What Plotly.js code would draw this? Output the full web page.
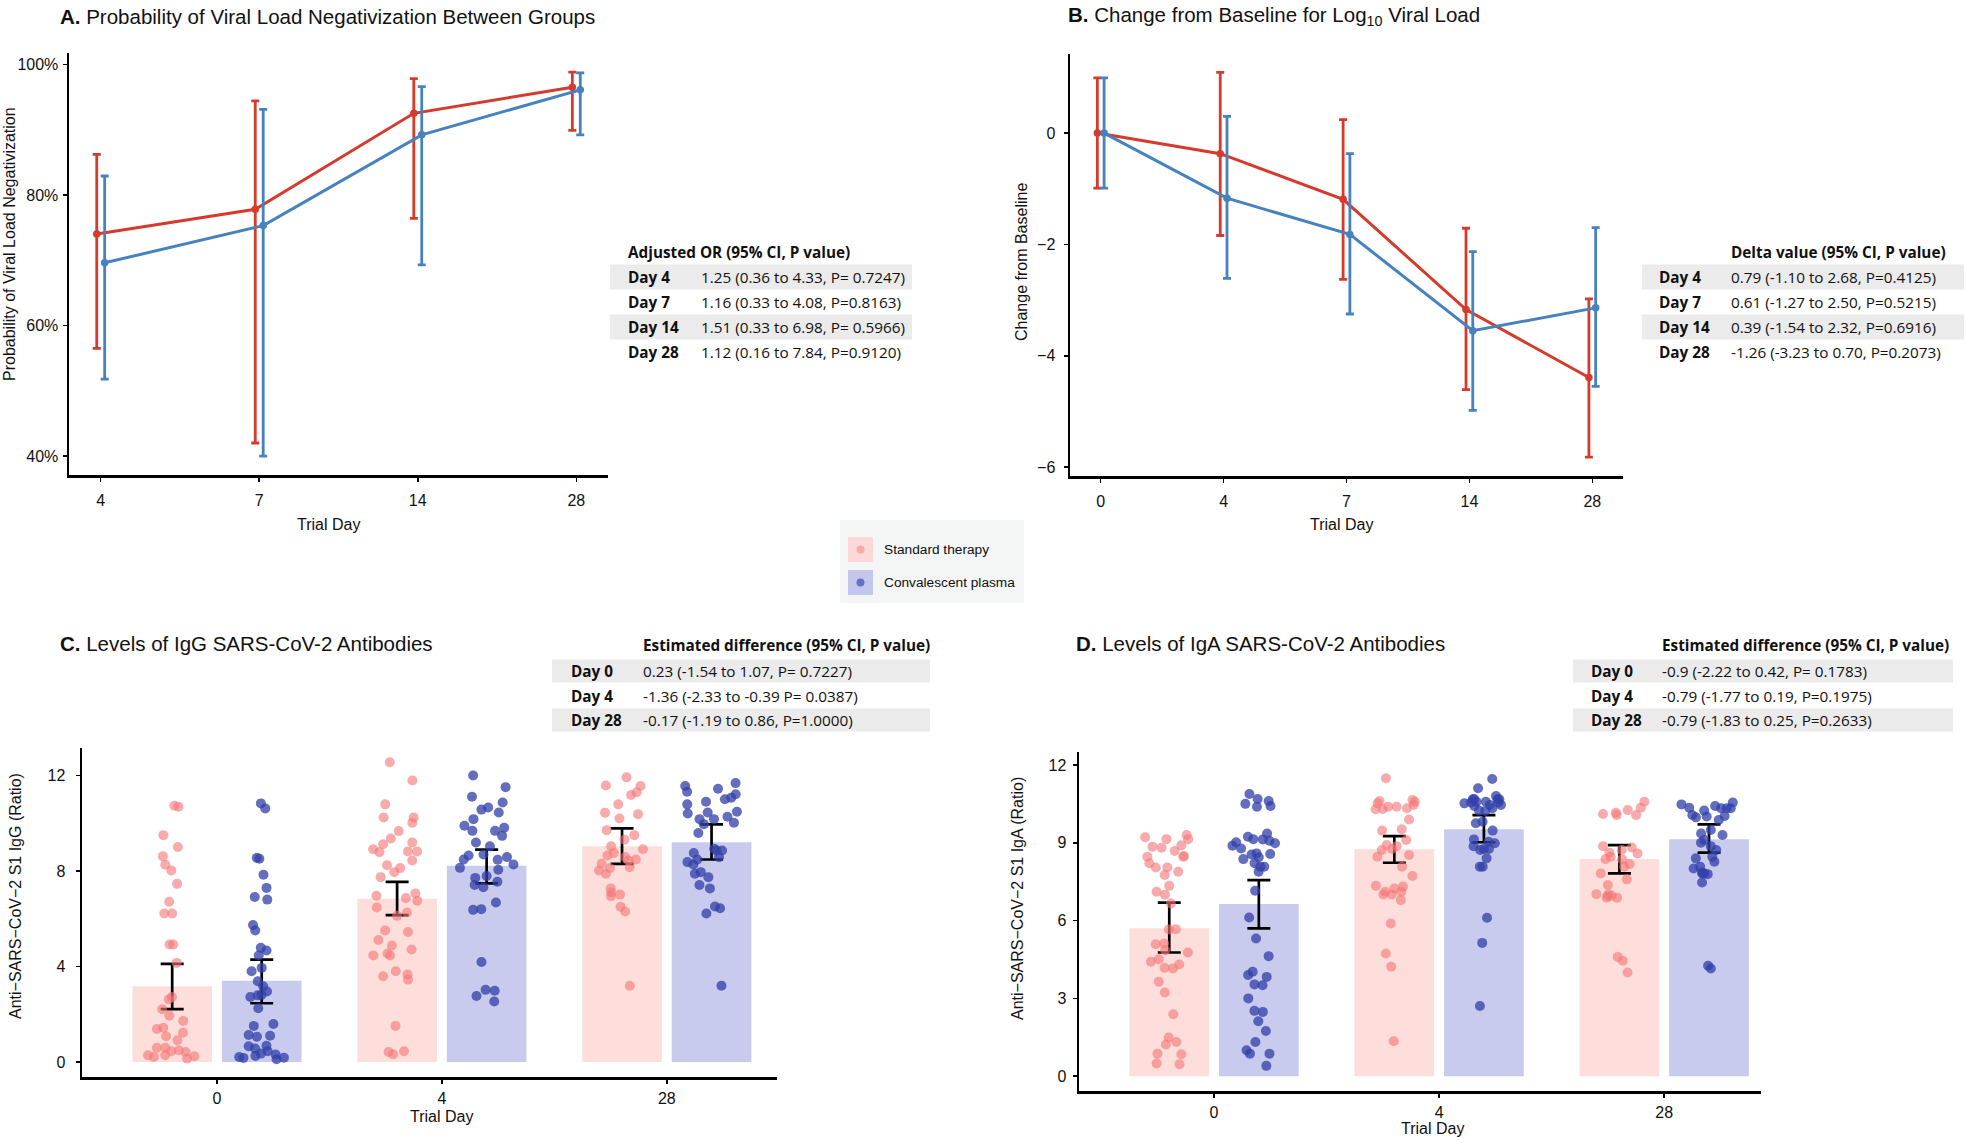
<!DOCTYPE html>
<html><head><meta charset="utf-8">
<script src="https://cdn.plot.ly/plotly-3.0.1.min.js"></script>
<style>html,body{margin:0;padding:0;background:#fff}#chart{width:1966px;height:1140px}</style>
</head><body><div id="chart"></div>
<script>
const W = 1966, H = 1140;

// ---------- Panel A: probability of viral load negativization ----------
const daysA = ['4', '7', '14', '28'];
const aTickVals = [40, 60, 80, 100];
const aTickText = ['40%', '60%', '80%', '100%'];
const aStdMean = [74.0, 77.8, 92.5, 96.5];
const aStdLow  = [56.5, 42.0, 76.4, 89.9];
const aStdHigh = [86.2, 94.4, 97.8, 98.8];
const aCpMean  = [69.6, 75.3, 89.2, 96.1];
const aCpLow   = [51.8, 40.0, 69.3, 89.2];
const aCpHigh  = [82.9, 93.1, 96.6, 98.7];

// ---------- Panel B: change from baseline, log10 viral load ----------
const daysB = ['0', '4', '7', '14', '28'];
const bTickVals = [-6, -4, -2, 0];
const bStdMean = [0, -0.37, -1.19, -3.17, -4.39];
const bStdLow  = [-0.99, -1.84, -2.63, -4.61, -5.82];
const bStdHigh = [0.99, 1.09, 0.24, -1.71, -2.98];
const bCpMean  = [0, -1.17, -1.82, -3.55, -3.14];
const bCpLow   = [-0.99, -2.61, -3.25, -4.98, -4.55];
const bCpHigh  = [0.99, 0.30, -0.37, -2.13, -1.70];

// ---------- Panel C: IgG ----------
const daysC = ['0', '4', '28'];
const cTickVals = [0, 4, 8, 12];
const cStdBar  = [3.17, 6.84, 9.03];
const cStdLow  = [2.21, 6.15, 8.30];
const cStdHigh = [4.11, 7.54, 9.78];
const cCpBar   = [3.40, 8.22, 9.20];
const cCpLow   = [2.46, 7.48, 8.48];
const cCpHigh  = [4.29, 8.89, 9.95];
const cStdDay0  = [10.69,10.73,9.50,9.00,8.62,8.26,8.02,7.46,6.71,6.22,6.22,4.92,4.92,4.15,2.63,2.72,2.21,1.94,1.72,1.43,1.38,1.22,1.08,0.91,0.59,0.49,0.45,0.59,0.42,0.14,0.24,0.21,0.28,0.28];
const cCpDay0   = [10.62,10.83,8.55,8.51,7.84,7.29,6.80,6.91,5.51,5.74,4.78,4.67,4.46,3.94,3.80,3.38,3.17,2.81,2.79,2.72,2.95,2.25,1.59,1.51,1.13,1.06,1.10,0.66,0.68,0.56,0.45,0.35,0.31,0.21,0.25,0.17,0.18,0.11];
const cStdDay4  = [12.55,11.79,10.79,10.24,10.24,10.02,9.67,9.36,9.19,9.12,8.82,8.91,8.79,8.82,8.44,8.24,8.12,7.95,7.74,7.06,6.96,6.87,6.75,6.47,6.26,6.12,5.44,5.51,5.11,4.88,4.71,4.46,4.46,4.54,3.80,3.59,3.45,3.66,1.51,0.45,0.32,0.42];
const cCpDay4   = [12.0,11.51,11.11,10.87,10.66,10.45,10.57,10.17,9.89,9.81,9.68,9.68,9.47,9.19,9.03,8.69,8.58,8.65,8.48,8.47,8.27,8.13,8.05,7.79,7.71,7.55,7.41,7.32,6.68,6.40,6.37,4.19,3.02,2.98,2.76,2.53];
const cStdDay28 = [11.92,11.58,11.56,11.30,11.18,10.79,10.44,10.38,10.20,9.71,9.50,9.31,9.03,8.91,8.75,8.65,8.58,8.48,8.44,8.30,8.16,8.02,8.12,7.88,7.27,7.10,6.94,7.01,6.50,6.30,3.19];
const cCpDay28  = [11.68,11.44,11.56,11.32,11.21,11.07,11.00,10.90,10.79,10.48,10.45,10.41,10.27,10.17,10.17,10.02,9.96,9.59,8.93,8.86,8.86,8.75,8.58,8.48,8.37,8.27,7.95,7.88,7.74,7.41,7.27,6.22,6.51,6.44,3.19];

// ---------- Panel D: IgA ----------
const dTickVals = [0, 3, 6, 9, 12];
const dStdBar  = [5.70, 8.75, 8.37];
const dStdLow  = [4.77, 8.23, 7.82];
const dStdHigh = [6.69, 9.26, 8.91];
const dCpBar   = [6.64, 9.52, 9.14];
const dCpLow   = [5.70, 9.02, 8.62];
const dCpHigh  = [7.56, 10.07, 9.71];
const dStdDay0  = [9.30,9.21,9.14,9.14,8.90,8.85,8.81,8.68,8.49,8.46,8.46,8.21,8.05,8.05,7.88,7.76,7.34,7.11,7.00,6.66,5.67,5.66,5.12,5.09,4.86,4.77,4.51,4.41,4.31,4.15,4.18,3.64,3.23,2.39,1.49,1.32,1.22,0.85,0.87,0.46,0.49];
const dCpDay0   = [10.88,10.69,10.61,10.50,10.42,10.39,9.36,9.23,9.14,9.13,9.08,9.02,8.98,8.89,8.78,8.59,8.55,8.57,8.44,8.37,8.21,8.08,8.08,7.88,7.15,6.12,5.31,4.63,4.03,3.90,3.83,3.54,3.51,3.00,2.52,2.48,2.12,1.74,1.32,1.00,0.87,0.87,0.40];
const dStdDay4  = [11.49,10.46,10.61,10.58,10.65,10.52,10.39,10.29,10.30,10.33,10.39,9.90,9.47,9.52,9.11,8.91,8.87,8.76,8.72,8.53,8.46,8.08,7.72,7.34,7.31,7.11,7.24,7.11,7.01,7.01,6.79,5.89,4.73,4.22,1.35];
const dCpDay4   = [11.46,11.10,10.80,10.68,10.68,10.69,10.68,10.52,10.55,10.58,10.58,10.42,10.46,10.46,10.55,10.33,10.24,10.23,9.81,9.75,9.47,9.13,9.04,8.98,8.87,8.76,8.76,8.72,8.40,8.08,8.08,6.11,5.14,2.71];
const dStdDay28 = [10.58,10.35,10.26,10.16,10.07,10.07,10.11,8.87,8.82,8.72,8.62,8.59,8.46,8.37,8.36,8.18,8.08,7.82,7.59,7.37,6.95,7.02,7.02,6.96,6.88,6.88,4.60,4.45,4.00];
const dCpDay28  = [10.42,10.48,10.55,10.33,10.33,10.33,10.35,10.24,10.07,10.01,9.98,10.03,9.88,9.49,9.36,9.30,9.11,9.00,8.87,8.72,8.46,8.40,8.27,8.08,7.85,7.82,7.79,7.82,8.01,7.47,4.15,4.26];

// ---------- Tables & labels ----------
const seriesNames = ['Standard therapy', 'Convalescent plasma'];
const tableAHeader = 'Adjusted OR (95% CI, P value)';
const tableALabels = ['Day 4', 'Day 7', 'Day 14', 'Day 28'];
const tableAValues = ['1.25 (0.36 to 4.33, P= 0.7247)', '1.16 (0.33 to 4.08, P=0.8163)', '1.51 (0.33 to 6.98, P= 0.5966)', '1.12 (0.16 to 7.84, P=0.9120)'];
const tableBHeader = 'Delta value (95% CI, P value)';
const tableBLabels = ['Day 4', 'Day 7', 'Day 14', 'Day 28'];
const tableBValues = ['0.79 (-1.10 to 2.68, P=0.4125)', '0.61 (-1.27 to 2.50, P=0.5215)', '0.39 (-1.54 to 2.32, P=0.6916)', '-1.26 (-3.23 to 0.70, P=0.2073)'];
const tableCHeader = 'Estimated difference (95% CI, P value)';
const tableCLabels = ['Day 0', 'Day 4', 'Day 28'];
const tableCValues = ['0.23 (-1.54 to 1.07, P= 0.7227)', '-1.36 (-2.33 to -0.39 P= 0.0387)', '-0.17 (-1.19 to 0.86, P=1.0000)'];
const tableDHeader = 'Estimated difference (95% CI, P value)';
const tableDLabels = ['Day 0', 'Day 4', 'Day 28'];
const tableDValues = ['-0.9 (-2.22 to 0.42, P= 0.1783)', '-0.79 (-1.77 to 0.19, P=0.1975)', '-0.79 (-1.83 to 0.25, P=0.2633)'];

// ---------- Styling ----------
const RED = '#d63a2c', BLUE = '#4682be';
const PINK_BAR = '#fddedb', BLUE_BAR = '#c8caee';
const PINK_PT = 'rgba(245,120,120,0.62)', BLUE_PT = 'rgba(50,65,170,0.76)';
const SANS = 'Liberation Sans, Arial, Helvetica, sans-serif';
const TABLE_FONT = 'Open Sans, Noto Sans, sans-serif';
const TITLE_SIZE = 20.5, AXIS_TITLE_SIZE = 16, TICK_SIZE = 16, TABLE_SIZE = 15.3, LEGEND_SIZE = 13.7;
const BAR_WIDTH = 0.354, GROUP_DODGE = 0.199;
const px = x => x / W;
const py = y => 1 - y / H;

const traces = [];

function lineTrace(cats, mean, low, high, color, dodge, xa, ya, name) {
  return {
    type: 'scatter', mode: 'lines+markers', name: name, showlegend: false,
    x: cats.map((c, i) => i + dodge), y: mean,
    xaxis: xa, yaxis: ya,
    line: {color: color, width: 3},
    marker: {color: color, size: 7.5},
    error_y: {type: 'data', symmetric: false,
      array: high.map((h, i) => h - mean[i]),
      arrayminus: mean.map((m, i) => m - low[i]),
      color: color, thickness: 2.8, width: 4}
  };
}
traces.push(lineTrace(daysA, aStdMean, aStdLow, aStdHigh, RED, -0.025, 'x', 'y', seriesNames[0]));
traces.push(lineTrace(daysA, aCpMean, aCpLow, aCpHigh, BLUE, 0.025, 'x', 'y', seriesNames[1]));
traces.push(lineTrace(daysB, bStdMean, bStdLow, bStdHigh, RED, -0.0275, 'x2', 'y2', seriesNames[0]));
traces.push(lineTrace(daysB, bCpMean, bCpLow, bCpHigh, BLUE, 0.0275, 'x2', 'y2', seriesNames[1]));

function barTrace(cats, vals, low, high, color, dodge, xa, ya, name) {
  return {
    type: 'bar', name: name, showlegend: false,
    x: cats.map((c, i) => i + dodge), y: vals, width: BAR_WIDTH,
    xaxis: xa, yaxis: ya,
    marker: {color: color, line: {width: 0}},
    error_y: {type: 'data', symmetric: false,
      array: high.map((h, i) => h - vals[i]),
      arrayminus: vals.map((v, i) => v - low[i]),
      color: '#000', thickness: 2.7, width: 11.5}
  };
}
function pointsTrace(cats, groups, color, dodge, xa, ya, name) {
  const xs = [], ys = [];
  groups.forEach((g, i) => g.forEach(v => { xs.push(i + dodge); ys.push(v); }));
  return {
    type: 'box', name: name, showlegend: false, x: xs, y: ys, xaxis: xa, yaxis: ya,
    width: BAR_WIDTH, boxpoints: 'all', jitter: 0.72, pointpos: 0,
    fillcolor: 'rgba(0,0,0,0)', line: {width: 0, color: 'rgba(0,0,0,0)'},
    marker: {color: color, size: 10, line: {width: 0}},
    hoveron: 'points'
  };
}
traces.push(barTrace(daysC, cStdBar, cStdLow, cStdHigh, PINK_BAR, -GROUP_DODGE, 'x3', 'y3', seriesNames[0]));
traces.push(barTrace(daysC, cCpBar, cCpLow, cCpHigh, BLUE_BAR, GROUP_DODGE, 'x3', 'y3', seriesNames[1]));
traces.push(pointsTrace(daysC, [cStdDay0, cStdDay4, cStdDay28], PINK_PT, -GROUP_DODGE, 'x3', 'y3', seriesNames[0]));
traces.push(pointsTrace(daysC, [cCpDay0, cCpDay4, cCpDay28], BLUE_PT, GROUP_DODGE, 'x3', 'y3', seriesNames[1]));
traces.push(barTrace(daysC, dStdBar, dStdLow, dStdHigh, PINK_BAR, -GROUP_DODGE, 'x4', 'y4', seriesNames[0]));
traces.push(barTrace(daysC, dCpBar, dCpLow, dCpHigh, BLUE_BAR, GROUP_DODGE, 'x4', 'y4', seriesNames[1]));
traces.push(pointsTrace(daysC, [dStdDay0, dStdDay4, dStdDay28], PINK_PT, -GROUP_DODGE, 'x4', 'y4', seriesNames[0]));
traces.push(pointsTrace(daysC, [dCpDay0, dCpDay4, dCpDay28], BLUE_PT, GROUP_DODGE, 'x4', 'y4', seriesNames[1]));

const axBase = {
  showline: true, linecolor: '#000', linewidth: 2.5, ticks: 'outside', ticklen: 4,
  tickwidth: 1.5, tickcolor: '#000', showgrid: false, zeroline: false,
  tickfont: {family: SANS, size: TICK_SIZE, color: '#111'}, fixedrange: true
};
const idx = arr => arr.map((d, i) => i);
const layout = {
  width: W, height: H, margin: {l: 0, r: 0, t: 0, b: 0},
  paper_bgcolor: '#fff', plot_bgcolor: 'rgba(0,0,0,0)',
  font: {family: SANS, color: '#111'},
  showlegend: false,
  barmode: 'overlay', boxmode: 'overlay',
  xaxis: Object.assign({}, axBase, {domain: [px(69), px(608)], anchor: 'y', range: [-0.2, 3.2],
    tickvals: idx(daysA), ticktext: daysA, ticklabelstandoff: 5}),
  yaxis: Object.assign({}, axBase, {domain: [py(475), py(53)], anchor: 'x', range: [37.1, 101.74],
    tickvals: aTickVals, ticktext: aTickText, ticklabelstandoff: 1}),
  xaxis2: Object.assign({}, axBase, {domain: [px(1070), px(1623)], anchor: 'y2', range: [-0.25, 4.25],
    tickvals: idx(daysB), ticktext: daysB, ticklabelstandoff: 5}),
  yaxis2: Object.assign({}, axBase, {domain: [py(476), py(54)], anchor: 'x2', range: [-6.16, 1.42],
    tickvals: bTickVals, ticklabelstandoff: 5}),
  xaxis3: Object.assign({}, axBase, {domain: [px(82), px(777)], anchor: 'y3', range: [-0.6, 2.49],
    tickvals: idx(daysC), ticktext: daysC, ticklabelstandoff: 1}),
  yaxis3: Object.assign({}, axBase, {domain: [py(1077), py(748)], anchor: 'x3', range: [-0.63, 13.15],
    tickvals: cTickVals, ticklabelstandoff: 7}),
  xaxis4: Object.assign({}, axBase, {domain: [px(1079), px(1761)], anchor: 'y4', range: [-0.6, 2.43],
    tickvals: idx(daysC), ticktext: daysC, ticklabelstandoff: 1}),
  yaxis4: Object.assign({}, axBase, {domain: [py(1091), py(752)], anchor: 'x4', range: [-0.57, 12.5],
    tickvals: dTickVals, ticklabelstandoff: 3}),
  shapes: [], annotations: []
};

const ann = (text, x, y, opts) => Object.assign({
  text: text, xref: 'paper', yref: 'paper', x: px(x), y: py(y), xanchor: 'left', yanchor: 'middle',
  showarrow: false, font: {family: SANS, size: AXIS_TITLE_SIZE, color: '#111'}
}, opts || {});
const titleFont = {family: SANS, size: TITLE_SIZE, color: '#111'};

// Panel titles
layout.annotations.push(ann('<b>A.</b> Probability of Viral Load Negativization Between Groups', 58, 16, {font: titleFont}));
layout.annotations.push(ann('<b>B.</b> Change from Baseline for Log<sub>10</sub> Viral Load', 1066, 1, {font: titleFont, yanchor: 'top'}));
layout.annotations.push(ann('<b>C.</b> Levels of IgG SARS-CoV-2 Antibodies', 58, 643, {font: titleFont}));
layout.annotations.push(ann('<b>D.</b> Levels of IgA SARS-CoV-2 Antibodies', 1074, 643, {font: titleFont}));

// Axis titles
layout.annotations.push(ann('Trial Day', 328, 524, {xanchor: 'center'}));
layout.annotations.push(ann('Trial Day', 1341, 524, {xanchor: 'center'}));
layout.annotations.push(ann('Trial Day', 441, 1116, {xanchor: 'center'}));
layout.annotations.push(ann('Trial Day', 1432, 1128, {xanchor: 'center'}));
layout.annotations.push(ann('Probability of Viral Load Negativization', 9, 244, {xanchor: 'center', textangle: -90}));
layout.annotations.push(ann('Change from Baseline', 1021, 262, {xanchor: 'center', textangle: -90}));
layout.annotations.push(ann('Anti\u2212SARS\u2212CoV\u22122 S1 IgG (Ratio)', 15, 896, {xanchor: 'center', textangle: -90}));
layout.annotations.push(ann('Anti\u2212SARS\u2212CoV\u22122 S1 IgA (Ratio)', 1017, 899, {xanchor: 'center', textangle: -90}));

// Tables
const tFont = {family: TABLE_FONT, size: TABLE_SIZE, color: '#111'};
function table(header, labels, values, hx, hy, lx, vx, rowY0, rowStep, shadeX0, shadeX1, rowH) {
  layout.annotations.push(ann('<b>' + header + '</b>', hx, hy, {font: tFont}));
  labels.forEach((lab, i) => {
    const y = rowY0 + i * rowStep;
    if (i % 2 === 0) {
      layout.shapes.push({type: 'rect', xref: 'paper', yref: 'paper', x0: px(shadeX0), x1: px(shadeX1),
        y0: py(y - rowH / 2), y1: py(y + rowH / 2), fillcolor: '#ebebeb', line: {width: 0}, layer: 'below'});
    }
    layout.annotations.push(ann('<b>' + lab + '</b>', lx, y, {font: tFont}));
    layout.annotations.push(ann(values[i], vx, y, {font: tFont}));
  });
}
table(tableAHeader, tableALabels, tableAValues, 626, 252, 626, 699, 277, 25, 610, 912, 25);
table(tableBHeader, tableBLabels, tableBValues, 1729, 252, 1657, 1729, 277, 25, 1642, 1964, 25);
table(tableCHeader, tableCLabels, tableCValues, 641, 645, 569, 641, 671, 24.5, 552, 930, 23);
table(tableDHeader, tableDLabels, tableDValues, 1660, 645, 1589, 1660, 671, 24.5, 1573, 1953, 23);

// Legend (drawn manually)
layout.shapes.push({type: 'rect', xref: 'paper', yref: 'paper', x0: px(840), x1: px(1024), y0: py(603), y1: py(520),
  fillcolor: '#f4f5f5', line: {width: 0}, layer: 'below'});
const legendKeys = [
  {name: seriesNames[0], sq: '#fcd9d8', dot: '#f8a9a8', y: 549.5},
  {name: seriesNames[1], sq: '#c4c7ec', dot: '#6870c4', y: 582.5}
];
legendKeys.forEach(k => {
  layout.shapes.push({type: 'rect', xref: 'paper', yref: 'paper', x0: px(848), x1: px(873), y0: py(k.y + 12.5), y1: py(k.y - 12.5),
    fillcolor: k.sq, line: {width: 0}});
  layout.shapes.push({type: 'circle', xref: 'paper', yref: 'paper', x0: px(856.5), x1: px(864.5), y0: py(k.y + 4), y1: py(k.y - 4),
    fillcolor: k.dot, line: {width: 0}});
  layout.annotations.push(ann(k.name, 882, k.y, {font: {family: SANS, size: LEGEND_SIZE, color: '#111'}}));
});

Plotly.newPlot('chart', traces, layout, {displayModeBar: false, staticPlot: true});
</script>
</body></html>
